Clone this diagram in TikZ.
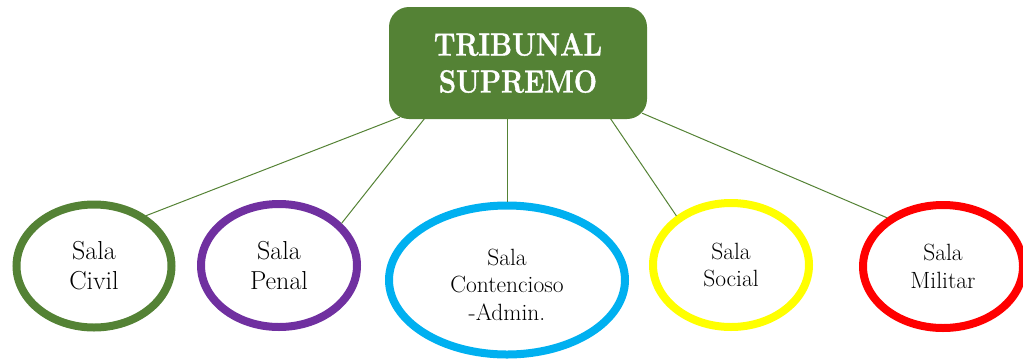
\documentclass[tikz,border=0pt]{standalone}
\usepackage{fontspec}
\newfontfamily\titlefont{Latin Modern Roman}[FakeBold=1.2]
\usetikzlibrary{shapes.geometric}
\definecolor{boxgreen}{HTML}{548235}
\definecolor{salapurple}{HTML}{7030A0}
\definecolor{salacyan}{HTML}{00B0F0}
\definecolor{salayellow}{HTML}{FFFF00}
\definecolor{salared}{HTML}{FF0000}
\begin{document}
\begin{tikzpicture}[x=1pt,y=-1pt,
  sala/.style={ellipse, draw, line width=8pt, inner sep=0pt, align=center, text=black},
  bigtext/.style={font=\fontsize{26}{30}\selectfont},
  smalltext/.style={font=\fontsize{23.5}{27.5}\selectfont},
  link/.style={draw=boxgreen, line width=1pt}]
\clip (0,0) rectangle (1023,360);
\node[fill=boxgreen, rounded corners=20pt, minimum width=258pt, minimum height=112pt,
      inner sep=0pt, text=white, align=center,
      font=\titlefont\fontsize{32}{37}\selectfont\bfseries] (top) at (518,63)
      {\scalebox{0.86}[1]{TRIBUNAL}\\\scalebox{0.86}[1]{SUPREMO}};
\node[sala, bigtext, draw=boxgreen, minimum width=155pt, minimum height=123pt] (civil) at (94,266) {Sala\\Civil};
\node[sala, bigtext, draw=salapurple, minimum width=156pt, minimum height=123pt] (penal) at (279,265.5) {Sala\\Penal};
\node[sala, smalltext, draw=salacyan, minimum width=236pt, minimum height=149pt] (cont) at (507,280) {\rule{0pt}{26pt}Sala\\Contencioso\\-Admin.};
\node[sala, smalltext, draw=salayellow, minimum width=156pt, minimum height=124pt] (social) at (731,265) {Sala\\Social};
\node[sala, smalltext, draw=salared, minimum width=160pt, minimum height=123pt] (militar) at (943,266.5) {Sala\\Militar};
\draw[link] ([shift={(11,-2)}]top.south west) -- (civil.44);
\draw[link] ([shift={(36,-1)}]top.south west) -- (penal.34);
\draw[link] ([xshift=-11pt]top.south) -- (cont.90);
\draw[link] ([shift={(-37,-1)}]top.south east) -- (social.138);
\draw[link] ([shift={(-5,-6)}]top.south east) -- (militar.139);
\end{tikzpicture}
\end{document}
